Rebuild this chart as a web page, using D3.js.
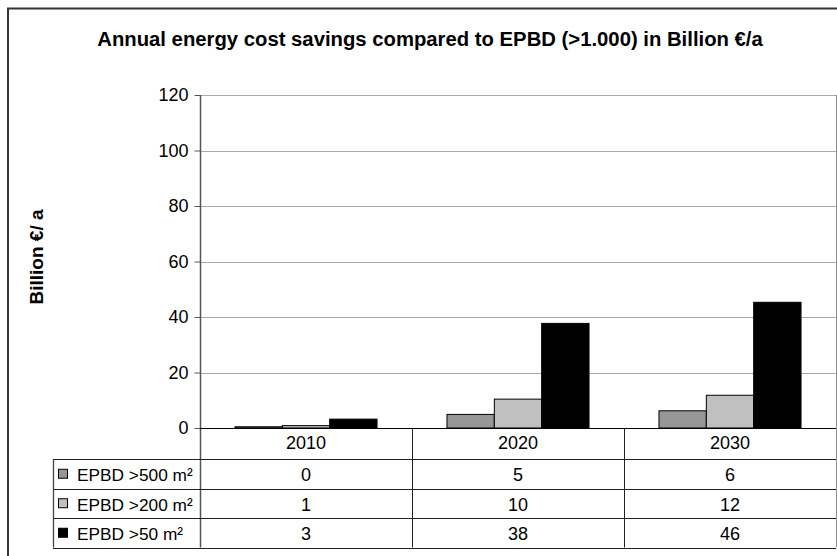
<!DOCTYPE html>
<html><head><meta charset="utf-8">
<script src="https://cdn.jsdelivr.net/npm/d3@7"></script>
<style>body{margin:0;background:#fff}svg{display:block;font-family:"Liberation Sans",Arial,sans-serif}</style>
</head><body>
<svg id="c" width="837" height="556"></svg>
<script>
const categories = ["2010", "2020", "2030"];
const seriesNames = ["EPBD >500 m²", "EPBD >200 m²", "EPBD >50 m²"];
const seriesColors = ["#969696", "#c0c0c0", "#000000"];
const valuesS1 = [0.45, 4.9, 6.2];
const valuesS2 = [0.85, 10.4, 11.8];
const valuesS3 = [3.2, 37.7, 45.3];
const tableS1 = ["0", "5", "6"];
const tableS2 = ["1", "10", "12"];
const tableS3 = ["3", "38", "46"];
const yTicks = [0, 20, 40, 60, 80, 100, 120];
const titleText = "Annual energy cost savings compared to EPBD (>1.000) in Billion €/a";
const yLabel = "Billion €/ a";

const series = [
  {name: seriesNames[0], color: seriesColors[0], values: valuesS1, table: tableS1},
  {name: seriesNames[1], color: seriesColors[1], values: valuesS2, table: tableS2},
  {name: seriesNames[2], color: seriesColors[2], values: valuesS3, table: tableS3}
];

const svg = d3.select("#c");
const L = 200, R = 836, T = 95, B = 428;
const tableLeft = 53;
const headerH = 31, rowH = 29.5;
const FS = 18;

// outer frame
svg.append("rect").attr("x", 8).attr("y", 8.5).attr("width", 860).attr("height", 600)
  .attr("fill", "#fff").attr("stroke", "#333").attr("stroke-width", 2);

const x0 = d3.scaleBand().domain(categories).range([L, R]).paddingInner(0.33).paddingOuter(0.165);
const xc = d3.scaleBand().domain(categories).range([L, R]).padding(0);
const x1 = d3.scaleBand().domain(seriesNames).range([0, x0.bandwidth()]).padding(0);
const y = d3.scaleLinear().domain([0, 120]).range([B, T]);

// gridlines
svg.append("g").selectAll("line").data(yTicks.filter(d => d > 0)).join("line")
  .attr("x1", L).attr("x2", R).attr("y1", d => Math.round(y(d)) + 0.5).attr("y2", d => Math.round(y(d)) + 0.5)
  .attr("stroke", "#a8a8a8").attr("stroke-width", 1);
// right border of plot
svg.append("line").attr("x1", R + 0.5).attr("x2", R + 0.5).attr("y1", T).attr("y2", B + headerH + 3 * rowH)
  .attr("stroke", "#909090");

// y axis
const yAxis = d3.axisLeft(y).tickValues(yTicks).tickSize(6).tickPadding(6);
const gy = svg.append("g").attr("transform", `translate(${L + 0.5},0)`).call(yAxis);
gy.select(".domain").remove();
gy.selectAll(".tick line").attr("stroke", "#555");
gy.selectAll(".tick text").attr("font-size", FS).attr("fill", "#000")
  .attr("font-family", "Liberation Sans, Arial, sans-serif");
svg.append("line").attr("x1", L + 0.5).attr("x2", L + 0.5).attr("y1", T).attr("y2", B + headerH + 3 * rowH)
  .attr("stroke", "#555").attr("stroke-width", 1.5);

// bars
const groups = svg.append("g").selectAll("g").data(categories).join("g")
  .attr("transform", d => `translate(${x0(d)},0)`);
groups.selectAll("rect").data((c, i) => series.map(s => ({s, v: s.values[i]}))).join("rect")
  .attr("x", d => x1(d.s.name))
  .attr("width", x1.bandwidth())
  .attr("y", d => y(d.v))
  .attr("height", d => y(0) - y(d.v))
  .attr("fill", d => d.s.color)
  .attr("stroke", "#000").attr("stroke-width", 1);

// zero line
svg.append("line").attr("x1", L).attr("x2", R).attr("y1", B + 0.5).attr("y2", B + 0.5)
  .attr("stroke", "#000").attr("stroke-width", 1.2);

// data table
const tg = svg.append("g");
const lineColor = "#222";
categories.forEach((c, i) => {
  if (i > 0) tg.append("line").attr("x1", xc(c) + 0.5).attr("x2", xc(c) + 0.5)
    .attr("y1", B).attr("y2", B + headerH + 3 * rowH).attr("stroke", lineColor);
  tg.append("text").attr("x", xc(c) + xc.bandwidth() / 2).attr("y", B + 21)
    .attr("text-anchor", "middle").attr("font-size", FS).text(c);
});
for (let r = 0; r <= 3; r++) {
  const yy = Math.round(B + headerH + r * rowH) + 0.5;
  tg.append("line").attr("x1", tableLeft).attr("x2", R).attr("y1", yy).attr("y2", yy)
    .attr("stroke", lineColor).attr("stroke-width", r === 3 ? 1.2 : 1);
}
tg.append("line").attr("x1", tableLeft + 0.5).attr("x2", tableLeft + 0.5)
  .attr("y1", B + headerH).attr("y2", B + headerH + 3 * rowH).attr("stroke", "#444").attr("stroke-width", 1.3);

series.forEach((s, r) => {
  const top = B + headerH + r * rowH;
  const cy = top + rowH / 2;
  tg.append("rect").attr("x", 58.5).attr("y", cy - 4.5).attr("width", 9).attr("height", 9)
    .attr("fill", s.color).attr("stroke", "#000").attr("stroke-width", 1);
  tg.append("text").attr("x", 77).attr("y", top + 22).attr("font-size", 17.3).text(s.name);
  categories.forEach((c, i) => {
    tg.append("text").attr("x", xc(c) + xc.bandwidth() / 2).attr("y", top + 22)
      .attr("text-anchor", "middle").attr("font-size", FS).text(s.table[i]);
  });
});

// title
svg.append("text").attr("x", 430).attr("y", 46).attr("text-anchor", "middle")
  .attr("font-size", 20.3).attr("font-weight", "bold").text(titleText);
// y label
svg.append("text").attr("transform", "translate(43,257) rotate(-90)").attr("text-anchor", "middle")
  .attr("font-size", 19).attr("font-weight", "bold").text(yLabel);
</script>
</body></html>
